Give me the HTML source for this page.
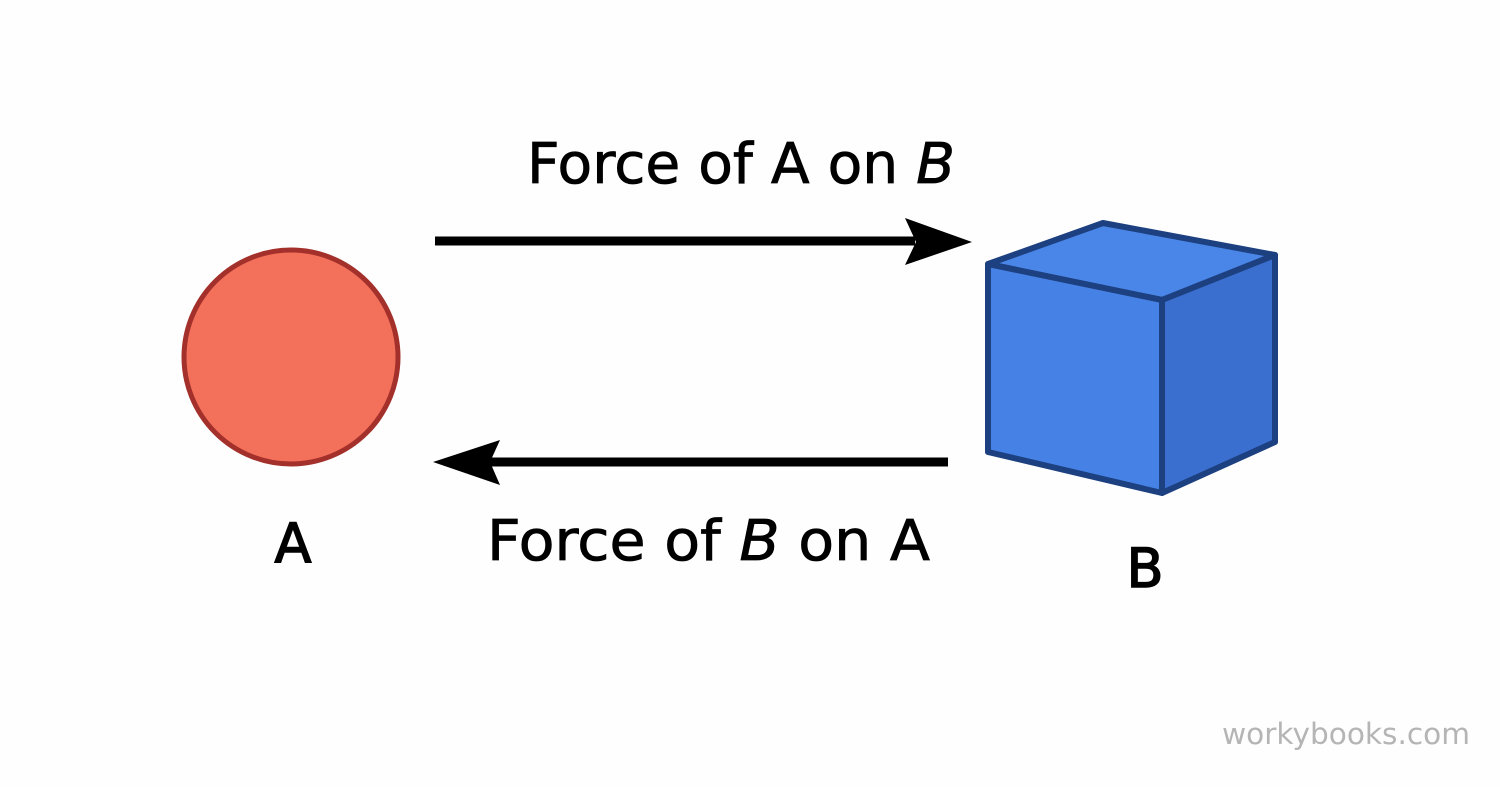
<!DOCTYPE html>
<html><head><meta charset="utf-8"><style>
html,body{margin:0;padding:0;background:#fefefe;}
svg{display:block;}
text{font-family:"DejaVu Sans","Liberation Sans",sans-serif;fill:#000;}
</style></head><body>
<svg width="1500" height="787" viewBox="0 0 1500 787" xmlns="http://www.w3.org/2000/svg">
<rect width="1500" height="787" fill="#fefefe"/>
<circle cx="291" cy="357" r="107" fill="#f3705a" stroke="#a3302a" stroke-width="5"/>
<rect x="435" y="236.5" width="480" height="9" fill="#000"/>
<polygon points="972,242 905,218 916,242 905,265" fill="#000"/>
<rect x="490" y="457.5" width="458" height="9" fill="#000"/>
<polygon points="433,462 500,440 490,462 500,485" fill="#000"/>
<g stroke="#1d4080" stroke-width="6" stroke-linejoin="round">
<polygon points="988,264 1103,223 1275,255 1162,300" fill="#4a86e8"/>
<polygon points="988,264 1162,300 1162,493 988,452" fill="#4682e6"/>
<polygon points="1162,300 1275,255 1275,442 1162,493" fill="#3a6fd0"/>
</g>
<g stroke="#000" stroke-width="0.8">
<text x="527" y="183" font-size="56" textLength="428" lengthAdjust="spacingAndGlyphs">Force of A on <tspan font-style="italic">B</tspan></text>
<text x="487" y="560" font-size="56" textLength="443" lengthAdjust="spacingAndGlyphs">Force of <tspan font-style="italic">B</tspan> on A</text>
<text x="293" y="562" font-size="54" text-anchor="middle" stroke-width="1.5">A</text>
<text x="1145" y="587" font-size="54" text-anchor="middle" stroke-width="1.5">B</text>
</g>
<text x="1222" y="744" font-size="29" style="fill:#b5b5b5" textLength="248" lengthAdjust="spacingAndGlyphs">workybooks.com</text>
</svg>
</body></html>
